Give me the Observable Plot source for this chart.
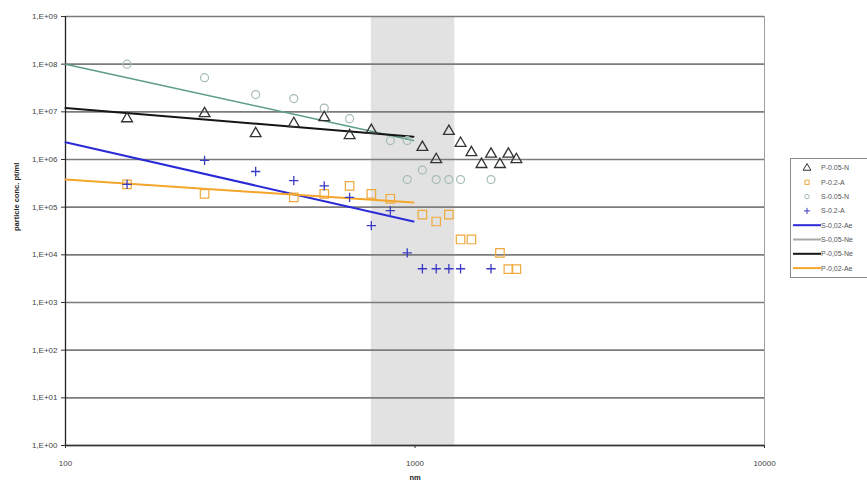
<!DOCTYPE html>
<html><head><meta charset="utf-8">
<script src="https://cdn.jsdelivr.net/npm/d3@7"></script>
<script src="https://cdn.jsdelivr.net/npm/@observablehq/plot@0.6"></script>
<style>
body{margin:0;background:#fff;}
#wrap{position:relative;width:867px;height:484px;font-family:"Liberation Sans",Arial,sans-serif;}
#legend{position:absolute;left:790px;top:158px;}
</style></head><body><div id="wrap"></div>
<script>
// ---- data ----
const xTicks = [100, 1000, 10000];
const yTicks = [1, 1e1, 1e2, 1e3, 1e4, 1e5, 1e6, 1e7, 1e8, 1e9];
const bandRange = [750, 1300];

// P-0.05-N (triangles)
const triX = [150, 250, 350, 450, 550, 650, 750, 1050, 1150, 1250, 1350, 1450, 1550, 1650, 1750, 1850, 1950];
const triY = [7.2e6, 9.2e6, 3.5e6, 5.7e6, 7.6e6, 3.2e6, 4.1e6, 1.8e6, 1.0e6, 3.9e6, 2.2e6, 1.4e6, 7.9e5, 1.3e6, 7.9e5, 1.3e6, 1.0e6];
// P-0.2-A (squares)
const sqX = [150, 250, 450, 550, 650, 750, 850, 1050, 1150, 1250, 1350, 1450, 1750, 1850, 1950];
const sqY = [3.0e5, 1.9e5, 1.6e5, 1.9e5, 2.8e5, 1.9e5, 1.5e5, 7e4, 5.0e4, 7e4, 2.1e4, 2.1e4, 1.1e4, 5e3, 5e3];
// S-0.05-N (circles)
const circX = [150, 250, 350, 450, 550, 650, 850, 950, 1050, 950, 1150, 1250, 1350, 1650];
const circY = [1e8, 5.2e7, 2.3e7, 1.9e7, 1.2e7, 7.2e6, 2.5e6, 2.5e6, 6e5, 3.8e5, 3.8e5, 3.8e5, 3.8e5, 3.8e5];
// S-0.2-A (plus)
const plusX = [150, 250, 350, 450, 550, 650, 750, 850, 950, 1050, 1150, 1250, 1350, 1650];
const plusY = [3.0e5, 9.6e5, 5.6e5, 3.6e5, 2.8e5, 1.6e5, 4.1e4, 8.5e4, 1.1e4, 5.1e3, 5.1e3, 5.1e3, 5.1e3, 5.1e3];

// trend lines (endpoints)
const lineX = [100, 990];
const blueY = [2.3e6, 5e4];     // S-0,02-Ae
const tealY = [1e8, 2.5e6];     // S-0,05-Ne
const blackY = [1.2e7, 3.0e6];  // P-0,05-Ne
const orangeY = [3.8e5, 1.25e5];// P-0,02-Ae

const pointNames = ["P-0.05-N", "P-0.2-A", "S-0.05-N", "S-0.2-A"];
const lineNames = ["S-0,02-Ae", "S-0,05-Ne", "P-0,05-Ne", "P-0,02-Ae"];

// ---- styles ----
const C = {tri: "#333333", sq: "#f0a93c", circ: "#a5bcb4", plus: "#3b3bc4",
           blue: "#2a2ad6", teal: "#5c9c88", black: "#151515", orange: "#f4a52a"};

const pts = (xs, ys) => xs.map((x, i) => ({x, y: ys[i]}));
const fmtY = d => "1,E+" + String(Math.round(Math.log10(d))).padStart(2, "0");

const chart = Plot.plot({
  width: 867, height: 484,
  marginLeft: 65, marginRight: 103, marginTop: 16, marginBottom: 39,
  x: {type: "log", domain: [100, 10000]},
  y: {type: "log", domain: [1, 1e9]},
  style: {fontFamily: "Liberation Sans, Arial, sans-serif", background: "#fff", color: "#444"},
  marks: [
    Plot.rect([bandRange], {x1: d => d[0], x2: d => d[1], y1: () => 1, y2: () => 1e9, fill: "#e2e2e2"}),
    Plot.ruleY(yTicks, {stroke: "#7c7c7c", strokeWidth: 1.6}),
    Plot.ruleX([10000], {stroke: "#a0a0a0", strokeWidth: 1}),
    Plot.ruleX([100], {stroke: "#222", strokeWidth: 1.3}),
    Plot.ruleY([1], {stroke: "#333", strokeWidth: 1.3}),
    Plot.axisY({ticks: yTicks, tickFormat: fmtY, tickSize: 4, tickPadding: 4, fontSize: 8, label: null, stroke: "#333"}),
    Plot.axisX({ticks: xTicks, tickFormat: d => String(d), tickSize: 3, tickPadding: 12, fontSize: 8, label: null, stroke: "#333"}),
    Plot.line(pts(lineX, tealY), {x: "x", y: "y", stroke: C.teal, strokeWidth: 1.6}),
    Plot.line(pts(lineX, blackY), {x: "x", y: "y", stroke: C.black, strokeWidth: 2}),
    Plot.line(pts(lineX, blueY), {x: "x", y: "y", stroke: C.blue, strokeWidth: 2}),
    Plot.line(pts(lineX, orangeY), {x: "x", y: "y", stroke: C.orange, strokeWidth: 2}),
    Plot.dot(pts(circX, circY), {x: "x", y: "y", r: 4, stroke: C.circ, strokeWidth: 1.2, fill: "none"}),
    Plot.dot(pts(sqX, sqY), {x: "x", y: "y", symbol: "square", r: 4.8, stroke: C.sq, strokeWidth: 1.2, fill: "none"}),
    Plot.dot(pts(plusX, plusY), {x: "x", y: "y", symbol: "plus", r: 3.1, stroke: C.plus, strokeWidth: 1.3}),
    Plot.dot(pts(triX, triY), {x: "x", y: "y", symbol: "triangle", r: 4, stroke: C.tri, strokeWidth: 1.3, fill: "none"}),
    Plot.text(["particle conc. pt/ml"], {frameAnchor: "left", dx: -49, rotate: -90, fontSize: 7.5, fontWeight: "bold", fill: "#222"}),
    Plot.text(["nm"], {x: () => 1000, frameAnchor: "bottom", dy: 34, fontSize: 7.5, fontWeight: "bold", fill: "#222"})
  ]
});
const wrap = document.getElementById("wrap");
wrap.appendChild(chart);

// ---- legend ----
const lg = d3.select(wrap).append("div").attr("id", "legend")
  .append("svg").attr("width", 77).attr("height", 121);
lg.append("rect").attr("x", 0.5).attr("y", 0.5).attr("width", 90).attr("height", 119)
  .attr("fill", "#fff").attr("stroke", "#8a8a8a");
const rowY = i => 10 + i * 14.3;
const symStroke = [C.tri, C.sq, C.circ, C.plus];
const syms = [d3.symbolTriangle, d3.symbolSquare, d3.symbolCircle, d3.symbolPlus];
const sizes = [26, 18, 16, 14];
pointNames.forEach((n, i) => {
  lg.append("path").attr("d", d3.symbol(syms[i], sizes[i])())
    .attr("transform", `translate(17,${rowY(i)})`).attr("fill", "none")
    .attr("stroke", symStroke[i]).attr("stroke-width", 1);
  lg.append("text").attr("x", 31).attr("y", rowY(i)).attr("dy", "0.35em")
    .attr("font-size", 7).attr("fill", "#555").text(n);
});
const lineCols = [C.blue, "#a8a8a8", C.black, C.orange];
lineNames.forEach((n, i) => {
  const y = rowY(i + 4);
  lg.append("line").attr("x1", 3).attr("x2", 31).attr("y1", y).attr("y2", y)
    .attr("stroke", lineCols[i]).attr("stroke-width", 2);
  lg.append("text").attr("x", 31).attr("y", y).attr("dy", "0.35em")
    .attr("font-size", 7).attr("fill", "#555").text(n);
});
</script></body></html>
